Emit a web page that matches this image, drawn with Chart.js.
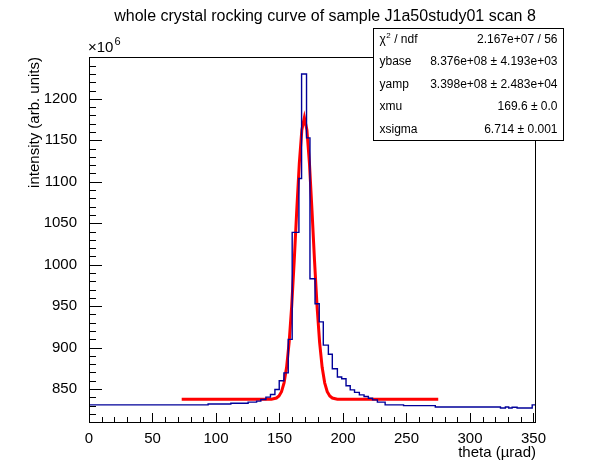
<!DOCTYPE html>
<html>
<head>
<meta charset="utf-8">
<script src="https://cdn.jsdelivr.net/npm/chart.js@4.4.1/dist/chart.umd.min.js"></script>
<style>
  html, body { margin: 0; padding: 0; background: #fff; }
  canvas { display: block; }
</style>
</head>
<body>
<canvas id="rocking" width="596" height="472"></canvas>
<script>
// histogram: bin edges (theta, urad) and bin contents (x1e6)
const thetaEdges = [0, 93.8, 111.7, 125.3, 132.0, 135.3, 139.3, 142.9, 146.4, 149.8,
  153.5, 156.9, 160.0, 165.3, 167.4, 171.3, 174.0, 178.0, 181.3, 184.5,
  188.5, 191.6, 195.6, 199.0, 202.4, 205.7, 209.1, 212.9, 216.6, 220.0,
  223.3, 227.1, 233.2, 247.7, 272.7, 324.0, 327.9, 330.5, 333.2, 337.1,
  349.0, 352.0];
const counts = [831, 832, 833, 834.3, 835.5, 837.5, 840.3, 843.5, 849.5, 860,
  869.5, 910, 1039, 1104, 1230, 1153, 983, 953, 931, 903,
  892, 874.5, 864.5, 862.4, 854, 849, 846, 843, 841, 839,
  837, 834.3, 831, 830, 828.3, 827.1, 828.3, 827.1, 828, 827.1,
  831];

// fitted curve as drawn
const fitTheta = [73, 139.6, 143.6, 147.6, 149.6, 151.6, 153.6, 155.6, 157.6, 159.6,
  161.6, 163.6, 165.6, 167.6, 169.6, 171.6, 173.6, 175.6, 177.6, 179.6,
  181.6, 183.6, 185.6, 187.6, 189.6, 191.6, 195.6, 199.6, 275];
const fitIntensity = [837.6, 837.6, 837.8, 839.2, 841.6, 846.9, 857.5, 876.2, 906.4, 949.7,
  1004.7, 1065.5, 1122.1, 1162.6, 1177.4, 1162.6, 1122.1, 1065.5, 1004.7, 949.7,
  906.4, 876.2, 857.5, 846.9, 841.6, 839.2, 837.8, 837.6, 837.6];

const xTicks = [0, 50, 100, 150, 200, 250, 300, 350];
const yTicks = [850, 900, 950, 1000, 1050, 1100, 1150, 1200];

const statsLabels = ["ndf", "ybase", "yamp", "xmu", "xsigma"];
const statsValues = ["2.167e+07 / 56", "8.376e+08 \u00b1 4.193e+03", "3.398e+08 \u00b1 2.483e+04",
  "169.6 \u00b1 0.0", "6.714 \u00b1 0.001"];

const FONT = "'Liberation Sans', Arial, Helvetica, sans-serif";

const histPts = counts.map((c, i) => ({ x: thetaEdges[i], y: c }));
histPts.push({ x: thetaEdges[thetaEdges.length - 1], y: counts[counts.length - 1] });
const fitPts = fitTheta.map((t, i) => ({ x: t, y: fitIntensity[i] }));

/* ROOT-like frame, inner ticks, titles and stats box */
const rootFrame = {
  id: 'rootFrame',
  afterDraw(chart) {
    const { ctx, chartArea: a, scales } = chart;
    const xs = scales.x, ys = scales.y;
    ctx.save();
    ctx.strokeStyle = '#000';
    ctx.lineWidth = 1;
    ctx.strokeRect(a.left + 0.5, a.top + 0.5, a.right - a.left - 1, a.bottom - a.top);

    ctx.beginPath();
    for (let v = 0; v <= 352; v += 10) {
      const px = Math.round(xs.getPixelForValue(v)) + 0.5;
      const len = v % 50 === 0 ? 9 : 5;
      ctx.moveTo(px, a.bottom);
      ctx.lineTo(px, a.bottom - len);
    }
    for (let v = 820; v <= 1250; v += 10) {
      const py = Math.round(ys.getPixelForValue(v)) + 0.5;
      const len = v % 50 === 0 ? 13 : 7;
      ctx.moveTo(a.left, py);
      ctx.lineTo(a.left + len, py);
    }
    ctx.stroke();

    ctx.fillStyle = '#000';
    ctx.textBaseline = 'middle';
    // main title
    ctx.font = '16px ' + FONT;
    ctx.textAlign = 'center';
    ctx.fillText('whole crystal rocking curve of sample J1a50study01 scan 8', 325, 17);

    // exponent
    ctx.textAlign = 'left';
    ctx.font = '15px ' + FONT;
    ctx.fillText('\u00d710', a.left - 1, 48);
    const w10 = ctx.measureText('\u00d710').width;
    ctx.font = '11px ' + FONT;
    ctx.fillText('6', a.left - 1 + w10 + 1, 42);

    // axis titles
    ctx.font = '15px ' + FONT;
    ctx.textAlign = 'right';
    ctx.fillText('theta (\u00b5rad)', a.right, 453);
    ctx.save();
    ctx.translate(35, a.top);
    ctx.rotate(-Math.PI / 2);
    ctx.textAlign = 'right';
    ctx.fillText('intensity (arb. units)', 0, 0);
    ctx.restore();

    // stats box
    const bx = 373.5, by = 28.5, bw = 190, bh = 112;
    ctx.fillStyle = '#fff';
    ctx.fillRect(bx, by, bw, bh);
    ctx.strokeRect(bx, by, bw, bh);
    ctx.fillStyle = '#000';
    ctx.font = '12px ' + FONT;
    const rowH = bh / statsLabels.length;
    statsLabels.forEach((lab, i) => {
      const cy = by + rowH * (i + 0.5);
      ctx.textAlign = 'left';
      if (i === 0) {
        ctx.font = '12px ' + FONT;
        ctx.fillText('\u03c7', bx + 6, cy);
        const wc = ctx.measureText('\u03c7').width;
        ctx.font = '8px ' + FONT;
        ctx.fillText('2', bx + 6 + wc + 0.5, cy - 4);
        ctx.font = '12px ' + FONT;
        ctx.fillText(' / ' + lab, bx + 6 + wc + 5, cy);
      } else {
        ctx.fillText(lab, bx + 6, cy);
      }
      ctx.textAlign = 'right';
      ctx.fillText(statsValues[i], bx + bw - 6, cy);
    });
    ctx.restore();
  }
};

new Chart(document.getElementById('rocking'), {
  type: 'scatter',
  data: {
    datasets: [
      { data: histPts, showLine: true, stepped: true, borderColor: '#000099',
        borderWidth: 1.4, pointRadius: 0, fill: false },
      { data: fitPts, showLine: true, borderColor: '#ff0000',
        borderWidth: 3, pointRadius: 0, fill: false }
    ]
  },
  options: {
    responsive: false,
    animation: false,
    events: [],
    layout: { padding: { left: 0, right: 60, top: 57, bottom: 0 } },
    plugins: { legend: { display: false }, tooltip: { enabled: false }, title: { display: false } },
    scales: {
      x: {
        type: 'linear', min: 0, max: 352,
        grid: { display: false }, border: { display: false },
        afterBuildTicks: s => { s.ticks = xTicks.map(v => ({ value: v })); },
        afterFit: s => { s.height = 50; },
        ticks: { color: '#000', padding: 0, maxRotation: 0, autoSkip: false,
          font: { family: FONT, size: 15 }, callback: v => String(v) }
      },
      y: {
        type: 'linear', min: 810.3, max: 1250.5,
        grid: { display: false }, border: { display: false },
        afterBuildTicks: s => { s.ticks = yTicks.map(v => ({ value: v })); },
        afterFit: s => { s.width = 89; },
        ticks: { color: '#000', padding: 4, autoSkip: false,
          font: { family: FONT, size: 15 }, callback: v => String(v) }
      }
    }
  },
  plugins: [rootFrame]
});
</script>
</body>
</html>
